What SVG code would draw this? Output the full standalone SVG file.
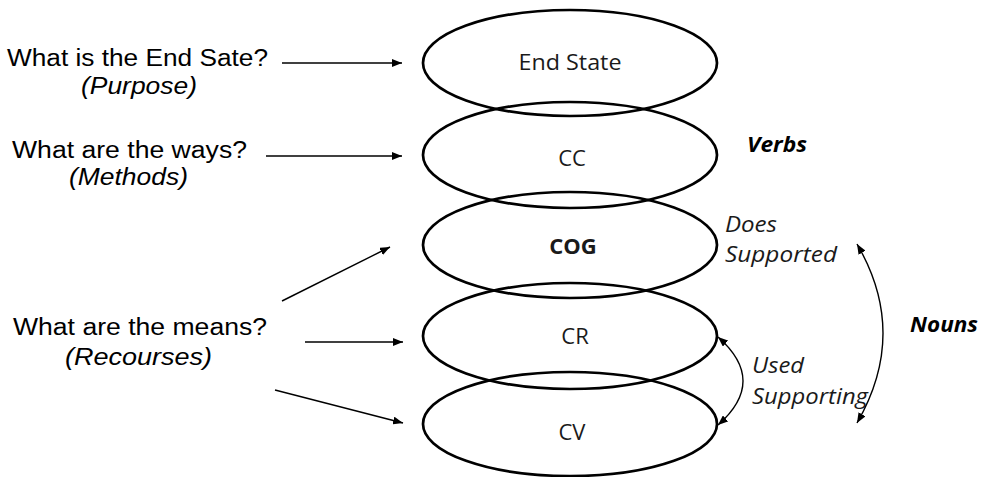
<svg xmlns="http://www.w3.org/2000/svg" width="986" height="477" viewBox="0 0 986 477">
<style>
.node ellipse{fill:none;stroke:#000;stroke-width:2.7}
.lbl{font-family:"Open Sans","Noto Sans",sans-serif;font-size:22px;fill:#1a1a1a;text-anchor:middle}
.q{font-family:"Liberation Sans",Arial,sans-serif;font-size:23px;fill:#000}
.qi{font-family:"Liberation Sans",Arial,sans-serif;font-size:23px;font-style:italic;fill:#000}
.side{font-family:"Open Sans","Noto Sans",sans-serif;font-size:21px;font-style:italic;fill:#1a1a1a}
.sideb{font-family:"Open Sans","Noto Sans",sans-serif;font-size:21px;font-style:italic;font-weight:bold;fill:#000}
.conn line,.conn path{fill:none;stroke:#000;stroke-width:1.4}
</style>
<defs>
<marker id="ah" viewBox="0 0 10 8" refX="10" refY="4" markerWidth="10" markerHeight="8" markerUnits="userSpaceOnUse" orient="auto-start-reverse">
<path d="M0,0 L10,4 L0,8 Z" fill="#000"/>
</marker>
</defs>
<g id="node-endstate" class="node"><ellipse cx="570" cy="63" rx="147" ry="53"/><text class="lbl" x="570" y="70" textLength="103" lengthAdjust="spacingAndGlyphs">End State</text></g>
<g id="node-cc" class="node"><ellipse cx="570" cy="155" rx="147" ry="53"/><text class="lbl" x="572" y="166">CC</text></g>
<g id="node-cog" class="node"><ellipse cx="570" cy="245" rx="147" ry="53"/><text class="lbl" x="573" y="254" font-weight="bold">COG</text></g>
<g id="node-cr" class="node"><ellipse cx="570" cy="336" rx="147" ry="53"/><text class="lbl" x="575" y="344">CR</text></g>
<g id="node-cv" class="node"><ellipse cx="570" cy="424" rx="147" ry="52"/><text class="lbl" x="572" y="440">CV</text></g>
<g id="q-endstate"><text class="q" x="7" y="66" textLength="261" lengthAdjust="spacingAndGlyphs">What is the End Sate?</text><text class="qi" x="81" y="94" textLength="116" lengthAdjust="spacingAndGlyphs">(Purpose)</text></g>
<g id="q-ways"><text class="q" x="12" y="158" textLength="235" lengthAdjust="spacingAndGlyphs">What are the ways?</text><text class="qi" x="69" y="185" textLength="119" lengthAdjust="spacingAndGlyphs">(Methods)</text></g>
<g id="q-means"><text class="q" x="13" y="335" textLength="254" lengthAdjust="spacingAndGlyphs">What are the means?</text><text class="qi" x="65" y="365" textLength="147" lengthAdjust="spacingAndGlyphs">(Recourses)</text></g>
<g id="lbl-verbs"><text class="sideb" x="747" y="152" textLength="60" lengthAdjust="spacingAndGlyphs">Verbs</text></g>
<g id="lbl-nouns"><text class="sideb" x="910" y="332" textLength="68" lengthAdjust="spacingAndGlyphs">Nouns</text></g>
<g id="lbl-does"><text class="side" x="725" y="232" textLength="52" lengthAdjust="spacingAndGlyphs">Does</text><text class="side" x="725" y="262" textLength="112" lengthAdjust="spacingAndGlyphs">Supported</text></g>
<g id="lbl-used"><text class="side" x="752" y="373" textLength="52" lengthAdjust="spacingAndGlyphs">Used</text><text class="side" x="752" y="404" textLength="116" lengthAdjust="spacingAndGlyphs">Supporting</text></g>
<g id="connectors" class="conn">
<line x1="282" y1="63" x2="402" y2="63" marker-end="url(#ah)"/>
<line x1="266" y1="156" x2="402" y2="156" marker-end="url(#ah)"/>
<line x1="282" y1="301" x2="390" y2="247" marker-end="url(#ah)"/>
<line x1="305" y1="342" x2="403" y2="342" marker-end="url(#ah)"/>
<line x1="275" y1="390" x2="403" y2="423" marker-end="url(#ah)"/>
<path d="M718,337 Q768,381 718,425" marker-start="url(#ah)" marker-end="url(#ah)"/>
<path d="M857,244 Q909,333 857,423" marker-start="url(#ah)" marker-end="url(#ah)"/>
</g>
</svg>
